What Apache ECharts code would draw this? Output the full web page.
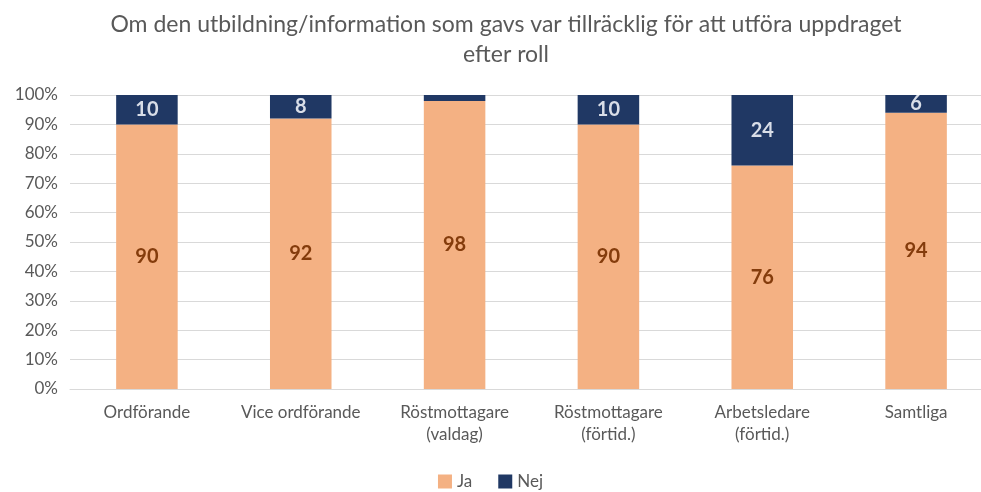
<!DOCTYPE html>
<html>
<head>
<meta charset="utf-8">
<script src="https://cdn.jsdelivr.net/npm/echarts@6/dist/echarts.min.js"></script>
<style>
  html, body { margin: 0; padding: 0; background: #fff; }
  #chart { width: 981px; height: 492px; }
</style>
</head>
<body>
<div id="chart"></div>
<script>
(function () {
  'use strict';

  // 数据
  var categories = ['Ordförande', 'Vice ordförande', 'Röstmottagare\n(valdag)', 'Röstmottagare\n(förtid.)', 'Arbetsledare\n(förtid.)', 'Samtliga'];
  var jaValues = [90, 92, 98, 90, 76, 94];
  var nejValues = [10, 8, 2, 10, 24, 6];
  var seriesNames = ['Ja', 'Nej'];

  var font = 'Lato, "Open Sans", sans-serif';
  var grey = '#595959';

  var chart = echarts.init(document.getElementById('chart'), null, { renderer: 'canvas' });

  chart.setOption({
    animation: false,
    textStyle: { fontFamily: font },
    title: {
      text: 'Om den utbildning/information som gavs var tillräcklig för att utföra uppdraget\nefter roll',
      left: 501,
      textAlign: 'center',
      top: 5,
      textStyle: {
        color: grey,
        fontFamily: font,
        fontSize: 23,
        fontWeight: 'normal',
        lineHeight: 30
      }
    },
    legend: {
      bottom: 2,
      padding: 0,
      left: 'center',
      itemWidth: 14,
      itemHeight: 14,
      itemGap: 26,
      icon: 'rect',
      textStyle: { color: grey, fontSize: 17, fontFamily: font },
      data: seriesNames
    },
    grid: {
      left: 70,
      right: -12,
      top: 95,
      bottom: 103,
      outerBoundsMode: 'none'
    },
    xAxis: {
      type: 'category',
      data: categories,
      axisLine: { lineStyle: { color: '#d9d9d9' } },
      axisTick: { show: false },
      axisLabel: {
        color: grey,
        fontSize: 17,
        lineHeight: 22,
        margin: 13,
        interval: 0,
        fontFamily: font
      }
    },
    yAxis: {
      type: 'value',
      min: 0,
      max: 100,
      interval: 10,
      axisLine: { show: false },
      axisTick: { show: false },
      axisLabel: {
        color: grey,
        fontSize: 17,
        margin: 12,
        formatter: '{value}%',
        fontFamily: font
      },
      splitLine: { lineStyle: { color: '#d9d9d9', width: 1 } }
    },
    series: [
      {
        name: seriesNames[0],
        type: 'bar',
        stack: 'total',
        barWidth: '40%',
        data: jaValues,
        itemStyle: { color: '#F4B183' },
        label: {
          show: true,
          position: 'inside',
          color: '#843C0C',
          fontSize: 20,
          fontWeight: 'bold',
          fontFamily: font
        }
      },
      {
        name: seriesNames[1],
        type: 'bar',
        stack: 'total',
        barWidth: '40%',
        data: nejValues,
        itemStyle: { color: '#203864' },
        label: {
          show: true,
          position: 'inside',
          color: '#D9DEE8',
          fontSize: 20,
          fontWeight: 'bold',
          fontFamily: font,
          formatter: function (p) { return p.value < 4 ? '' : p.value; }
        }
      }
    ]
  });
})();
</script>
</body>
</html>
